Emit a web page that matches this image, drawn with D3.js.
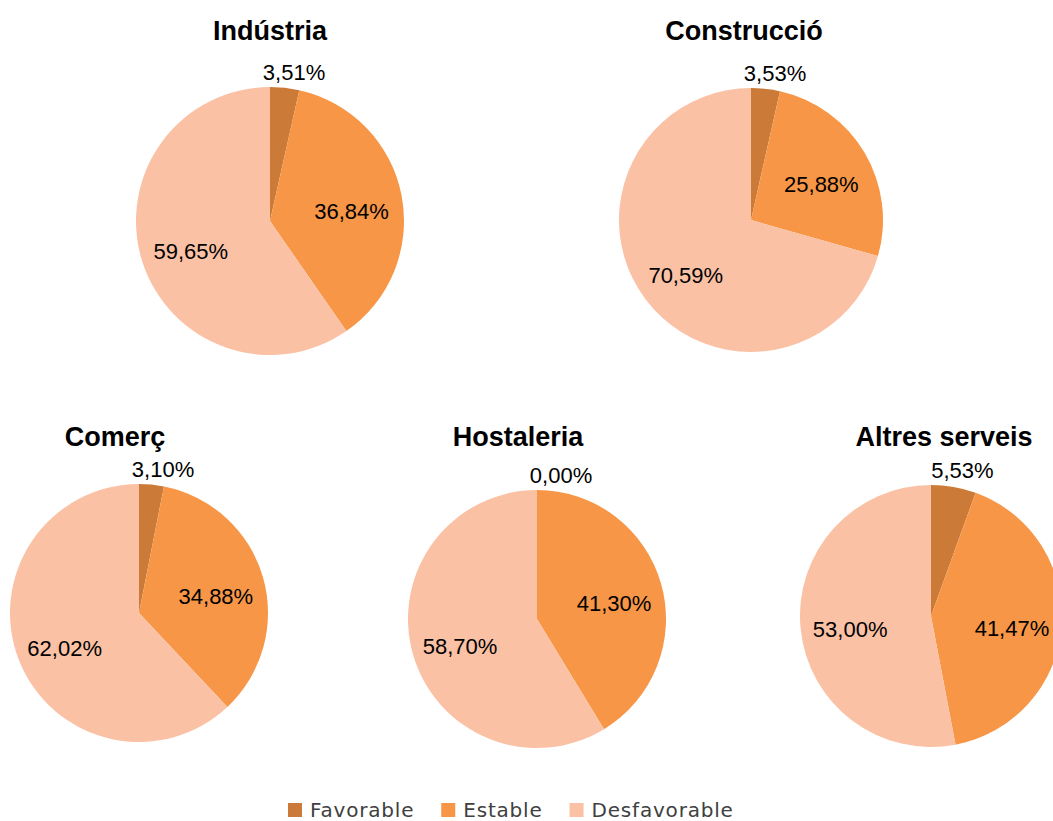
<!DOCTYPE html>
<html>
<head>
<meta charset="utf-8" />
<title>Pies</title>
<style>
  body { margin: 0; background: #fff; }
  svg { display: block; font-family: "Liberation Sans", Arial, sans-serif; }
</style>
</head>
<body>
<svg id="chart" width="1053" height="821"></svg>
<script src="https://cdn.jsdelivr.net/npm/d3@7"></script>
<script>
const sectors = ["Indústria", "Construcció", "Comerç", "Hostaleria", "Altres serveis"];
const categories = ["Favorable", "Estable", "Desfavorable"];
const favorable = [3.51, 3.53, 3.10, 0.00, 5.53];
const estable = [36.84, 25.88, 34.88, 41.30, 41.47];
const desfavorable = [59.65, 70.59, 62.02, 58.70, 53.00];
const colors = ["#cc7a38", "#f79646", "#fac1a5"];

// where each pie sits on the page
const layout = [
  { cx: 270, cy: 221, r: 134, tx: 270, ty: 40 },
  { cx: 751, cy: 220, r: 132, tx: 744, ty: 40 },
  { cx: 139, cy: 613, r: 129, tx: 115, ty: 446 },
  { cx: 537, cy: 619, r: 129, tx: 518, ty: 446 },
  { cx: 931, cy: 616, r: 131, tx: 944, ty: 446 }
];

const svg = d3.select("#chart");
const fmt = v => v.toFixed(2).replace(".", ",") + "%";
const color = d3.scaleOrdinal().domain(categories).range(colors);
const pie = d3.pie().sort(null).value(d => d.value);

sectors.forEach((name, i) => {
  const L = layout[i];
  const values = [favorable[i], estable[i], desfavorable[i]]
    .map((v, k) => ({ cat: categories[k], value: v }));
  const arcs = pie(values);
  const arc = d3.arc().innerRadius(0).outerRadius(L.r);
  const g = svg.append("g").attr("transform", `translate(${L.cx},${L.cy})`);

  g.selectAll("path")
    .data(arcs)
    .enter().append("path")
    .attr("d", arc)
    .attr("fill", d => color(d.data.cat));

  g.selectAll("text")
    .data(arcs)
    .enter().append("text")
    .attr("font-size", 22)
    .attr("fill", "#000")
    .attr("text-anchor", "middle")
    .attr("dominant-baseline", "central")
    .each(function (d) {
      const mid = (d.startAngle + d.endAngle) / 2;
      let x, y;
      if (d.data.value < 10) {
        const R = L.r + 16;
        x = Math.max(Math.sin(mid) * R + 6, 24);
        y = -L.r - 15;
      } else {
        const R = L.r * 0.62;
        x = Math.sin(mid) * R;
        y = -Math.cos(mid) * R + 6;
      }
      d3.select(this).attr("x", x).attr("y", y);
    })
    .text(d => fmt(d.data.value));

  svg.append("text")
    .attr("x", L.tx)
    .attr("y", L.ty)
    .attr("text-anchor", "middle")
    .attr("font-size", 27)
    .attr("font-weight", "bold")
    .text(name);
});

// legend
const legend = svg.append("g").attr("transform", "translate(288,810)");
let lx = 0;
categories.forEach(c => {
  const item = legend.append("g").attr("transform", `translate(${lx},0)`);
  item.append("rect").attr("x", 0).attr("y", -7).attr("width", 14).attr("height", 14)
    .attr("fill", color(c));
  const t = item.append("text").attr("x", 22).attr("y", 0)
    .attr("dominant-baseline", "central")
    .attr("font-family", "DejaVu Sans, sans-serif")
    .attr("font-size", 20)
    .attr("letter-spacing", 0.8)
    .attr("fill", "#404040")
    .text(c);
  lx += 22 + t.node().getComputedTextLength() + 27;
});
</script>
</body>
</html>
